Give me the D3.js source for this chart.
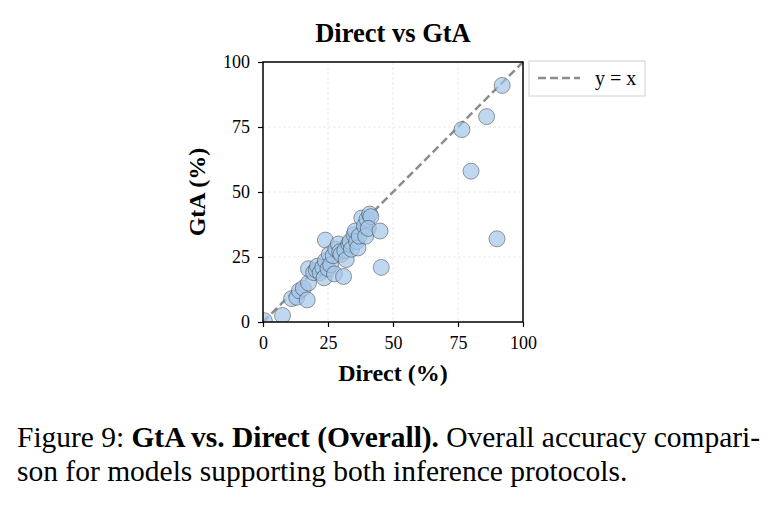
<!DOCTYPE html>
<html>
<head>
<meta charset="utf-8">
<script src="https://cdn.jsdelivr.net/npm/d3@7"></script>
<style>
  body { margin: 0; background: #fff; }
  svg text { font-family: "Liberation Serif", "DejaVu Serif", serif; }
</style>
</head>
<body>
<div id="chart"></div>
<script>
// accuracy (%) per model, Direct vs GtA
const directVals = [0.5, 7.5, 11, 13, 14, 15.5, 17, 17.5, 17.5, 19.5, 20.5, 21, 22, 23, 23.5,
  24, 24, 25, 25.5, 26, 27, 27.5, 28, 29, 29.5, 30, 31, 31.5, 32, 33, 33.5, 34, 35, 35.5,
  36, 36.5, 37, 38, 39, 39.5, 40, 41, 41.5, 40.5, 45, 45.5, 76.5, 80, 86, 90, 92];
const gtaVals = [0.5, 2.5, 9, 9.5, 12, 13, 8.5, 15, 20.5, 19, 20, 21.5, 19, 21, 17,
  31.5, 23.5, 20.5, 26, 22, 25.5, 18.5, 28, 30, 27, 26, 17.5, 27.5, 24, 30, 31, 28, 33.5, 35,
  31, 28.5, 33, 40, 37, 33, 39.5, 41.5, 40.5, 36, 35, 21, 74, 58, 79, 32, 91];
const tickVals = [0, 25, 50, 75, 100];

const points = directVals.map((d, i) => ({ x: d, y: gtaVals[i] }));

const svg = d3.select('#chart').append('svg')
  .attr('width', 777)
  .attr('height', 505);

const plotLeft = 263, plotTop = 62, size = 260;

const xScale = d3.scaleLinear().domain([0, 100]).range([plotLeft, plotLeft + size]);
const yScale = d3.scaleLinear().domain([0, 100]).range([plotTop + size, plotTop]);

svg.append('defs').append('clipPath').attr('id', 'plotclip')
  .append('rect').attr('x', plotLeft).attr('y', plotTop).attr('width', size).attr('height', size);

// grid
const grid = svg.append('g');
grid.selectAll('.gx').data(tickVals.slice(1, 4)).enter().append('line')
  .attr('x1', d => xScale(d)).attr('x2', d => xScale(d))
  .attr('y1', plotTop).attr('y2', plotTop + size)
  .attr('stroke', '#e6e6e6').attr('stroke-width', 0.8).attr('stroke-dasharray', '3,2');
grid.selectAll('.gy').data(tickVals.slice(1, 4)).enter().append('line')
  .attr('y1', d => yScale(d)).attr('y2', d => yScale(d))
  .attr('x1', plotLeft).attr('x2', plotLeft + size)
  .attr('stroke', '#e6e6e6').attr('stroke-width', 0.8).attr('stroke-dasharray', '3,2');

// y = x
svg.append('line')
  .attr('x1', xScale(0)).attr('y1', yScale(0))
  .attr('x2', xScale(100)).attr('y2', yScale(100))
  .attr('stroke', '#8c8c8c').attr('stroke-width', 2.5)
  .attr('stroke-dasharray', '8,4');

svg.append('g').attr('clip-path', 'url(#plotclip)')
  .selectAll('circle').data(points).enter().append('circle')
  .attr('cx', d => xScale(d.x))
  .attr('cy', d => yScale(d.y))
  .attr('r', 8)
  .attr('fill', 'rgba(164,198,232,0.7)')
  .attr('stroke', '#333')
  .attr('stroke-opacity', 0.8)
  .attr('stroke-width', 0.6);

// axes
const xAxis = svg.append('g')
  .attr('transform', 'translate(0,' + (plotTop + size) + ')')
  .call(d3.axisBottom(xScale).tickValues(tickVals).tickSize(5).tickPadding(9));
const yAxis = svg.append('g')
  .attr('transform', 'translate(' + plotLeft + ',0)')
  .call(d3.axisLeft(yScale).tickValues(tickVals).tickSize(5).tickPadding(8));
[xAxis, yAxis].forEach(a => {
  a.select('.domain').remove();
  a.selectAll('line').attr('stroke', '#000').attr('stroke-width', 1.2);
  a.selectAll('text').attr('font-size', '18px').attr('fill', '#000')
    .style('font-family', '"Liberation Serif", serif');
});

svg.append('rect')
  .attr('x', plotLeft).attr('y', plotTop).attr('width', size).attr('height', size)
  .attr('fill', 'none').attr('stroke', '#000').attr('stroke-width', 1.5);

// labels
svg.append('text')
  .attr('x', plotLeft + size / 2).attr('y', 42)
  .attr('text-anchor', 'middle')
  .attr('font-size', '26.5px').attr('font-weight', 'bold')
  .text('Direct vs GtA');

svg.append('text')
  .attr('x', plotLeft + size / 2).attr('y', 381)
  .attr('text-anchor', 'middle')
  .attr('font-size', '24px').attr('font-weight', 'bold')
  .text('Direct (%)');

svg.append('text')
  .attr('transform', 'translate(205,' + (plotTop + size / 2) + ') rotate(-90)')
  .attr('text-anchor', 'middle')
  .attr('font-size', '24px').attr('font-weight', 'bold')
  .text('GtA (%)');

// legend
const legend = svg.append('g');
legend.append('rect')
  .attr('x', 529).attr('y', 61).attr('width', 116).attr('height', 35)
  .attr('fill', '#fff').attr('stroke', '#d0d0d0').attr('stroke-width', 1);
legend.append('line')
  .attr('x1', 538).attr('x2', 580).attr('y1', 78).attr('y2', 78)
  .attr('stroke', '#8c8c8c').attr('stroke-width', 2.5).attr('stroke-dasharray', '8,4');
legend.append('text')
  .attr('x', 595).attr('y', 85)
  .attr('font-size', '20px')
  .text('y = x');

// caption
const cap = svg.append('text').attr('font-size', '29.5px').attr('fill', '#000');
const l1 = cap.append('tspan').attr('x', 17).attr('y', 447)
  .attr('textLength', 743).attr('lengthAdjust', 'spacing');
l1.append('tspan').text('Figure 9: ');
l1.append('tspan').attr('font-weight', 'bold').text('GtA vs. Direct (Overall).');
l1.append('tspan').text(' Overall accuracy compari-');
cap.append('tspan').attr('x', 17).attr('y', 481)
  .text('son for models supporting both inference protocols.');
</script>
</body>
</html>
